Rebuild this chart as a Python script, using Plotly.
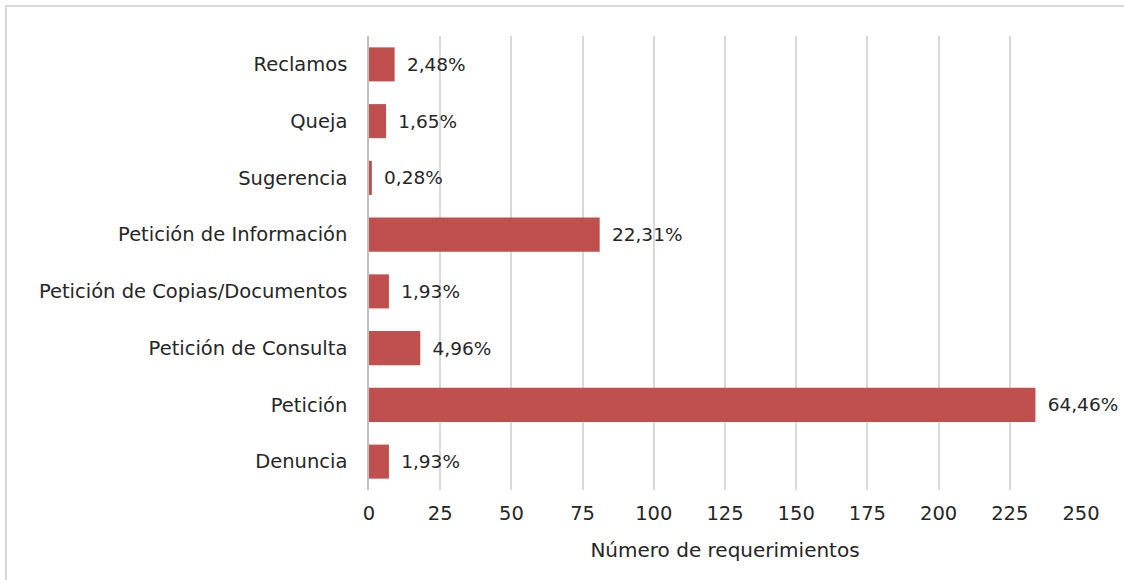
import plotly.graph_objects as go

categories = ["Denuncia", "Petición", "Petición de Consulta", "Petición de Copias/Documentos",
              "Petición de Información", "Sugerencia", "Queja", "Reclamos"]
counts = [7, 234, 18, 7, 81, 1, 6, 9]
pct_labels = ["1,93%", "64,46%", "4,96%", "1,93%", "22,31%", "0,28%", "1,65%", "2,48%"]
x_ticks = [0, 25, 50, 75, 100, 125, 150, 175, 200, 225, 250]

FONT = "DejaVu Sans, Calibri, Carlito, sans-serif"

W, H = 1124, 580
L, T, R, B = 369, 36, 43, 90
PW, PH = W - L - R, H - T - B

fig = go.Figure(go.Bar(
    y=categories, x=counts, orientation="h",
    marker=dict(color="#C0504D", line=dict(width=0)),
    text=pct_labels, texttemplate="\u2002%{text}", textposition="outside", cliponaxis=False,
    textfont=dict(family=FONT, size=18.5, color="#262626"),
))

fig.update_layout(
    width=W, height=H,
    margin=dict(l=L, r=R, t=T, b=B, autoexpand=False),
    paper_bgcolor="white", plot_bgcolor="white",
    bargap=0.4, showlegend=False,
    font=dict(family=FONT, size=19.5, color="#262626"),
    xaxis=dict(range=[0, 250], tickvals=x_ticks, showgrid=True, gridcolor="#D9D9D9",
               gridwidth=1.5, zeroline=False, showline=False, ticks="",
               ticklabelstandoff=9,
               title=dict(text="Número de requerimientos", font=dict(size=20, family=FONT), standoff=19)),
    yaxis=dict(showgrid=False, showline=True, linecolor="#BFBFBF", linewidth=1.5,
               ticks="", ticklabelstandoff=16, zeroline=False),
    shapes=[dict(type="rect", xref="paper", yref="paper",
                 x0=(6 - L) / PW, x1=(W + 20 - L) / PW,
                 y0=-(B + 30) / PH, y1=(H - 6 - B) / PH,
                 line=dict(color="#D9D9D9", width=2), fillcolor="rgba(0,0,0,0)", layer="below")],
)

fig.write_html("out.html", config={"displayModeBar": False},
               post_script="document.body.style.margin='0';")
